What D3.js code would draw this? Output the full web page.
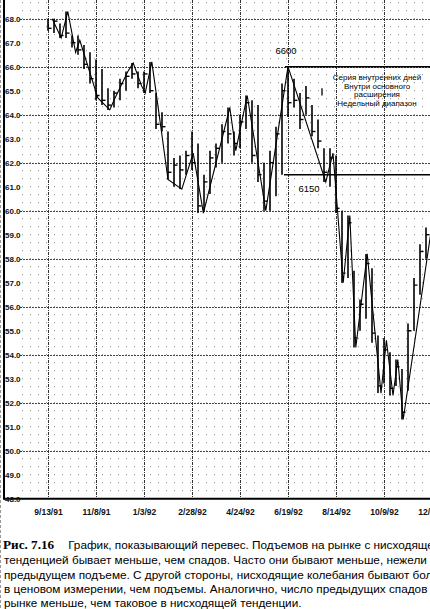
<!DOCTYPE html>
<html><head><meta charset="utf-8">
<script src="https://cdn.jsdelivr.net/npm/d3@7"></script>
<style>body{margin:0;background:#fff;}svg{display:block}</style>
</head><body>
<svg id="c" width="430" height="609"></svg>
<script>
// ---------- data ----------
const tickLabels = ["9/13/91","11/8/91","1/3/92","2/28/92","4/24/92","6/19/92","8/14/92","10/9/92","12/4/92"];
const yTickValues = [48,49,50,51,52,53,54,55,56,57,58,59,60,61,62,63,64,65,66,67,68];
const firstWeek = "9/13/91";
const highs  = [68.0,68.0,67.8,68.3,67.3,67.3,66.9,66.6,66.3,65.9,65.1,65.0,65.5,65.8,66.15,65.8,65.8,66.2,64.9,64.1,63.3,62.2,62.3,62.5,63.3,62.8,61.5,62.5,62.8,63.6,64.3,63.3,64.0,64.8,64.6,64.4,62.0,62.5,63.5,65.3,66.0,65.5,64.9,65.2,64.4,63.8,62.6,62.6,62.3,60.0,59.8,57.5,56.3,58.2,57.6,54.8,54.7,54.1,53.8,53.4,55.3,57.2,58.6,59.3];
const lows   = [67.5,67.4,67.2,67.2,66.8,66.5,65.9,65.3,64.6,64.4,64.2,64.3,64.6,65.0,65.5,65.1,64.9,64.9,63.4,63.3,61.3,61.0,60.9,61.5,61.7,59.9,60.0,60.7,61.8,62.0,62.8,62.3,62.6,63.4,62.0,61.2,60.0,60.0,60.6,61.5,63.9,64.3,63.4,64.0,63.1,62.6,61.2,61.0,59.9,57.0,57.2,54.3,55.0,55.5,54.5,52.4,52.8,52.3,52.7,51.3,52.5,55.0,56.5,58.0];
const closes = [67.6,67.9,67.3,67.4,67.0,66.7,66.1,65.5,64.8,64.6,64.4,64.9,65.3,65.6,65.7,65.3,65.7,65.0,63.6,63.5,61.6,61.9,61.7,62.3,62.0,60.2,61.2,62.2,62.6,63.3,63.2,62.8,63.7,64.5,62.3,61.5,60.4,62.0,63.2,65.0,64.5,64.6,63.8,64.7,63.3,62.9,61.6,62.2,60.1,57.4,59.5,54.7,56.1,57.8,54.9,52.7,54.2,52.6,53.5,51.6,55.0,56.9,58.3,59.0];
const swingWeek  = [0.7,2.2,3.3,4.6,5.3,8.3,10.3,11.0,13.3,14.2,15.6,16.2,17.3,18.2,20.0,22.3,24.2,25.9,30.3,31.3,33.2,36.3,40.0,46.3,47.5,49.2,50.3,51.3,53.2,55.5,56.4,57.5,58.3,59.2,64.0];
const swingPrice = [68.0,67.2,68.3,66.6,67.1,64.7,64.2,64.6,65.8,66.15,65.2,64.9,66.2,64.6,61.3,60.9,62.4,59.9,64.3,62.5,64.8,60.0,66.0,61.2,62.4,57.0,59.8,54.3,58.2,52.4,54.6,52.3,53.8,51.3,59.4];
const levelHigh = 66.0, levelHighLabel = "6600";
const levelLow = 61.5, levelLowLabel = "6150";
const legendLines = ["Серия внутренних дней","Внутри основного","расширения","Недельный диапазон"];
const captionBold = "Рис. 7.16";
const captionLines = [
 "График, показывающий перевес. Подъемов на рынке с нисходящей",
 "тенденцией бывает меньше, чем спадов. Часто они бывают меньше, нежели",
 "предыдущем подъеме. С другой стороны, нисходящие колебания бывают больше",
 "в ценовом измерении, чем подъемы. Аналогично, число предыдущих спадов на",
 "рынке меньше, чем таковое в нисходящей тенденции."
];

// ---------- setup ----------
const svg = d3.select("#c");
const W = 430;
const parse = d3.timeParse("%m/%d/%y");
const tickDates = tickLabels.map(parse);
const x = d3.scaleTime().domain([tickDates[0], tickDates[tickDates.length-1]]).range([48, 432]);
const y = d3.scaleLinear().domain([48, 68]).range([498.7, 18.7]);
const start = parse(firstWeek);
const weekDate = w => new Date(start.getTime() + w*7*864e5);
const plotBottom = y(48), plotLeft = 4;

svg.append("rect").attr("width",430).attr("height",609).attr("fill","#fff");

svg.append("clipPath").attr("id","pc").append("rect")
  .attr("x",plotLeft).attr("y",0).attr("width",W-plotLeft).attr("height",plotBottom);

const g = svg.append("g");

// minor dot grid
const minorVals = d3.range(48+1/3, 68.9, 1/3);
g.selectAll("line.minor").data(minorVals).join("line")
  .attr("x1",22).attr("x2",W).attr("y1",d=>y(d)).attr("y2",d=>y(d))
  .attr("stroke","#8a8a8a").attr("stroke-width",1).attr("stroke-dasharray","1,7");

// major horizontal grid (even values)
g.selectAll("line.hmaj").data(yTickValues.filter(v=>v%2===0 && v>48)).join("line")
  .attr("x1",20).attr("x2",W).attr("y1",d=>Math.round(y(d))+0.5).attr("y2",d=>Math.round(y(d))+0.5)
  .attr("stroke","#444").attr("stroke-width",1).attr("stroke-dasharray","2,1");

// major vertical grid
g.selectAll("line.vmaj").data(tickDates).join("line")
  .attr("x1",d=>Math.round(x(d))+0.5).attr("x2",d=>Math.round(x(d))+0.5)
  .attr("y1",0).attr("y2",plotBottom)
  .attr("stroke","#333").attr("stroke-width",1).attr("stroke-dasharray","3,1,1,1");

// axes lines
svg.append("line").attr("x1",plotLeft).attr("x2",plotLeft).attr("y1",0).attr("y2",plotBottom+1)
  .attr("stroke","#000").attr("stroke-width",2);
svg.append("line").attr("x1",plotLeft).attr("x2",W).attr("y1",plotBottom).attr("y2",plotBottom)
  .attr("stroke","#000").attr("stroke-width",2);

// y labels
const yAxis = d3.axisLeft(y).tickValues(yTickValues).tickFormat(d3.format(".1f")).tickSize(0);
const ya = svg.append("g").attr("transform","translate(20,0)").call(yAxis);
ya.select(".domain").remove();
ya.selectAll("text").attr("x",-15).attr("text-anchor","start")
  .attr("font-family","Liberation Sans, Arial, sans-serif").attr("font-size",8).attr("font-weight","bold").attr("fill","#111");

// x labels
const xAxis = d3.axisBottom(x).tickValues(tickDates).tickFormat((d,i)=>tickLabels[i]).tickSize(0);
const xa = svg.append("g").attr("transform",`translate(0,${plotBottom})`).call(xAxis);
xa.select(".domain").remove();
xa.selectAll("text").attr("y",10).attr("dy","0.71em")
  .attr("font-family","Liberation Sans, Arial, sans-serif").attr("font-size",8.5).attr("font-weight","bold").attr("fill","#111");

// data layer
const dl = svg.append("g").attr("clip-path","url(#pc)");
const bars = dl.selectAll("g.bar").data(highs.map((h,i)=>({i,h,l:lows[i],c:closes[i]}))).join("g");
bars.append("line")
  .attr("x1",d=>x(weekDate(d.i))).attr("x2",d=>x(weekDate(d.i)))
  .attr("y1",d=>y(d.h)).attr("y2",d=>y(d.l))
  .attr("stroke","#000").attr("stroke-width",1.6);
bars.append("line")
  .attr("x1",d=>x(weekDate(d.i))).attr("x2",d=>x(weekDate(d.i))+3.5)
  .attr("y1",d=>y(d.c)).attr("y2",d=>y(d.c))
  .attr("stroke","#000").attr("stroke-width",1.4);

// swing line
const line = d3.line().x(d=>x(weekDate(d[0]))).y(d=>y(d[1]));
dl.append("path").datum(swingWeek.map((w,i)=>[w,swingPrice[i]]))
  .attr("d",line).attr("fill","none").attr("stroke","#000").attr("stroke-width",1.1);

// level lines
const peakWeek = 40;
dl.append("line").attr("x1",x(weekDate(peakWeek))-3).attr("x2",W).attr("y1",y(levelHigh)).attr("y2",y(levelHigh))
  .attr("stroke","#000").attr("stroke-width",1.6);
dl.append("line").attr("x1",x(weekDate(peakWeek))-4).attr("x2",W).attr("y1",y(levelLow)).attr("y2",y(levelLow))
  .attr("stroke","#000").attr("stroke-width",1.4);

const lab = svg.append("g").attr("font-family","Liberation Sans, Arial, sans-serif").attr("fill","#000");
lab.append("text").attr("x",x(weekDate(peakWeek))-2).attr("y",y(levelHigh)-13).attr("text-anchor","middle")
  .attr("font-size",9.5).text(levelHighLabel);
lab.append("text").attr("x",x(weekDate(peakWeek))+21).attr("y",y(levelLow)+17).attr("text-anchor","middle")
  .attr("font-size",9.5).text(levelLowLabel);

// legend
const legY = [79.5, 88.5, 97, 106];
lab.selectAll("text.leg").data(legendLines).join("text")
  .attr("x",377).attr("y",(d,i)=>legY[i]).attr("text-anchor","middle")
  .attr("font-size",8).text(d=>d);
svg.append("line").attr("x1",322).attr("x2",322).attr("y1",y(65.1)).attr("y2",y(64.8))
  .attr("stroke","#000").attr("stroke-width",1.3);

// caption
const cap = svg.append("g").attr("font-family","Liberation Sans, Arial, sans-serif").attr("fill","#000");
const capY = [549, 564, 578.5, 593, 607];
let fs = 12;
const probe = cap.append("text").attr("font-size",fs).text(captionLines[1]);
const k = 423 / probe.node().getComputedTextLength();
probe.remove();
fs = fs * k;
const t0 = cap.append("text").attr("x",3).attr("y",capY[0]).attr("font-size",fs);
t0.append("tspan").attr("font-family","Liberation Serif, Times New Roman, serif").attr("font-weight","bold")
  .attr("font-size",fs*1.12).text(captionBold);
t0.append("tspan").attr("dx",14).text(captionLines[0]);
captionLines.slice(1).forEach((s,i)=>{
  cap.append("text").attr("x",4).attr("y",capY[i+1]).attr("font-size",fs).text(s);
});
svg.append("line").attr("x1",0.5).attr("x2",0.5).attr("y1",0).attr("y2",609)
  .attr("stroke","#999").attr("stroke-width",1).attr("stroke-dasharray","3,2");
</script>
</body></html>
